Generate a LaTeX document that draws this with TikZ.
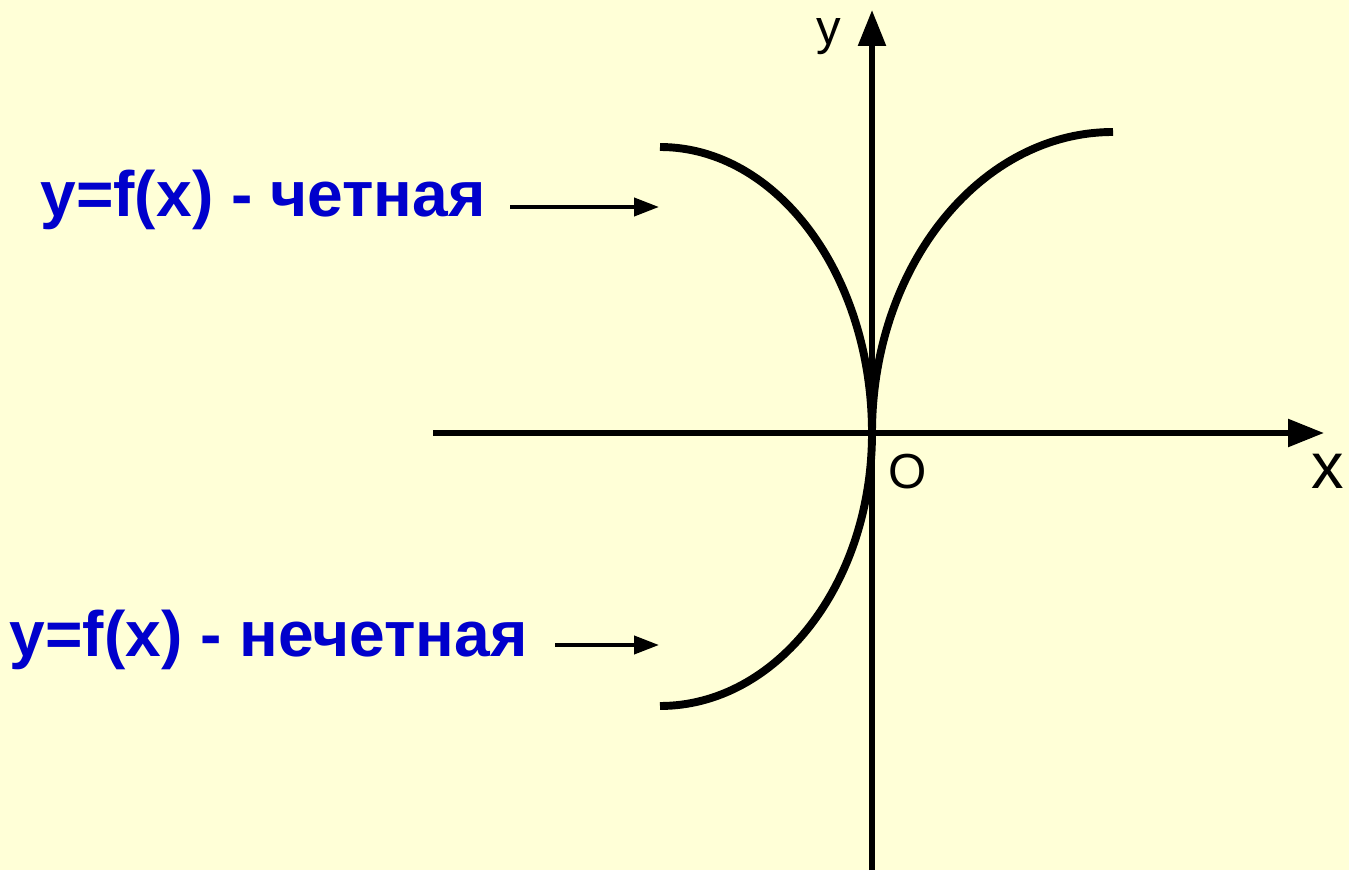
\documentclass[tikz,border=0pt]{standalone}
\usepackage{fontspec}
\setmainfont{Liberation Sans}
\usetikzlibrary{arrows.meta}
\definecolor{paper}{HTML}{FFFFD7}
\definecolor{labelblue}{HTML}{0000CC}

\begin{document}
\begin{tikzpicture}[x=0.02cm, y=0.02cm,
    axis/.style={line width=3.2pt, -{Triangle[length=0.72cm, width=0.54cm]}},
    graph/.style={line width=4.5pt},
    pointer/.style={line width=2.3pt, -{Triangle[length=0.5cm, width=0.36cm]}},
    caption/.style={font=\fontsize{36.5}{40}\selectfont\bfseries, text=labelblue, inner sep=0pt, anchor=base east},
    axlabel/.style={inner sep=0pt, anchor=base}]
    \fill[paper] (0,0) rectangle (1349,870);
    \useasboundingbox (0,0) rectangle (1349,870);

    % axes
    \coordinate (O) at (872,437);
    \coordinate (xstart) at (433,437);
    \coordinate (xend) at (1324,437);
    \coordinate (ystart) at (872,0);
    \coordinate (yend) at (872,860);
    \draw[axis] (xstart) -- (xend);
    \draw[axis] (ystart) -- (yend);
    \node[axlabel, font=\fontsize{28}{32}\selectfont] (ylab) at (829,825) {y};
    \node[axlabel, font=\fontsize{28}{32}\selectfont] (olab) at (908,382) {O};
    \node[axlabel, font=\fontsize{37}{40}\selectfont] (xlab) at (1328,382) {x};

    % curves
    \coordinate (evenend) at (660,723);
    \coordinate (oddend) at (660,164);
    \coordinate (rightend) at (1113,738);
    \draw[graph] (evenend) arc[start angle=90, end angle=0, x radius=212, y radius=286];
    \draw[graph] (O) arc[start angle=0, end angle=-90, x radius=212, y radius=273];
    \draw[graph] (O) arc[start angle=180, end angle=90, x radius=241, y radius=301];

    % captions
    \node[caption] (even) at (486,653) {y=f(x) - четная};
    \node[caption] (odd) at (528,214) {y=f(x) - нечетная};
    \coordinate (evenarrow) at (659,663);
    \coordinate (oddarrow) at (659,225);
    \draw[pointer] (even.base east) ++(24,10) -- (evenarrow);
    \draw[pointer] (odd.base east) ++(27,11) -- (oddarrow);
\end{tikzpicture}
\end{document}
